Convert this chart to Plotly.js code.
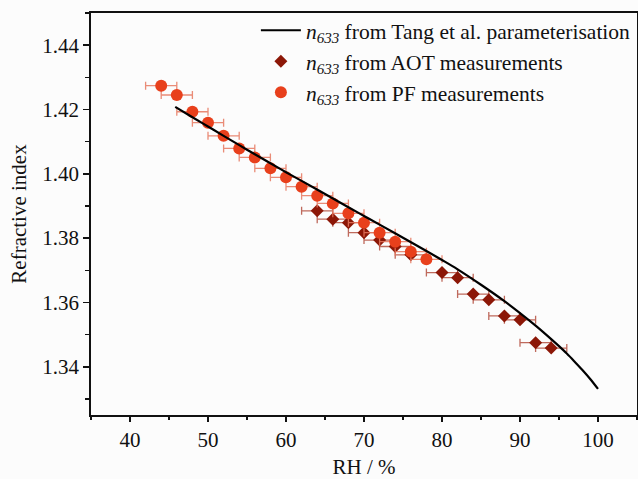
<!DOCTYPE html>
<html>
<head>
<meta charset="utf-8">
<script src="https://cdn.plot.ly/plotly-3.0.1.min.js"></script>
<style>html,body{margin:0;padding:0;background:#fcfcfc;}#chart{width:638px;height:479px;}</style>
</head>
<body>
<div id="chart"></div>
<script>
// Tang et al. parameterisation curve
const tangRH = [45.8, 48, 50, 52, 55, 58, 60, 62, 65, 68, 70, 72, 75, 78, 80, 82, 85, 88, 90, 92, 94, 95, 96, 97, 98, 99, 100];
const tangN  = [1.4208, 1.4176, 1.4147, 1.4118, 1.4075, 1.4033, 1.4005, 1.3978, 1.3937, 1.3896, 1.3869, 1.3842, 1.3801, 1.3760, 1.3732, 1.3703, 1.3655, 1.3604, 1.3567, 1.3528, 1.3486, 1.3464, 1.3441, 1.3416, 1.3390, 1.3362, 1.3331];

// AOT measurements
const aotRH  = [64, 66, 68, 70, 72, 74, 76, 80, 82, 84, 86, 88, 90, 92, 94];
const aotN   = [1.3885, 1.3859, 1.3848, 1.3817, 1.3794, 1.3774, 1.3748, 1.3693, 1.3677, 1.3626, 1.3608, 1.3558, 1.3546, 1.3475, 1.3458];
const aotErr = [2, 2, 2, 2, 2, 2, 2, 2, 2, 2, 2, 2, 2, 2, 2];

// PF measurements
const pfRH  = [44, 46, 48, 50, 52, 54, 56, 58, 60, 62, 64, 66, 68, 70, 72, 74, 76, 78];
const pfN   = [1.4274, 1.4245, 1.4193, 1.4159, 1.4118, 1.4079, 1.4051, 1.4017, 1.3989, 1.3960, 1.3932, 1.3908, 1.3877, 1.3848, 1.3817, 1.3789, 1.3758, 1.3734];
const pfErr = [2, 2, 2, 2, 2, 2, 2, 2, 2, 2, 2, 2, 2, 2, 2, 2, 2, 2];

const xTicks = [40, 50, 60, 70, 80, 90, 100];
const yTicks = [1.34, 1.36, 1.38, 1.40, 1.42, 1.44];
const yTickText = ['1.34', '1.36', '1.38', '1.40', '1.42', '1.44'];

const FONT = 'Liberation Serif, Times New Roman, serif';

const traces = [
  {
    x: aotRH, y: aotN, type: 'scatter', mode: 'markers',
    name: '<i>n</i><sub><i>633</i></sub> from AOT measurements',
    legendrank: 2,
    marker: {symbol: 'diamond', size: 10, color: '#8c1707'},
    error_x: {type: 'data', array: aotErr, visible: true, color: 'rgba(180,80,65,0.85)', thickness: 1.3, width: 4}
  },
  {
    x: pfRH, y: pfN, type: 'scatter', mode: 'markers',
    name: '<i>n</i><sub><i>633</i></sub> from PF measurements',
    legendrank: 3,
    marker: {symbol: 'circle', size: 12, color: '#e8401c'},
    error_x: {type: 'data', array: pfErr, visible: true, color: 'rgba(230,120,95,0.85)', thickness: 1.3, width: 4}
  },
  {
    x: tangRH, y: tangN, type: 'scatter', mode: 'lines',
    name: '<i>n</i><sub><i>633</i></sub> from Tang et al. parameterisation',
    legendrank: 1,
    line: {color: '#000000', width: 2.2, shape: 'spline', smoothing: 1}
  }
];

const layout = {
  width: 638, height: 479,
  margin: {l: 91, r: 1, t: 13, b: 64},
  paper_bgcolor: '#fcfcfc', plot_bgcolor: '#fcfcfc',
  font: {family: FONT, size: 21, color: '#111'},
  showlegend: true,
  legend: {
    x: 0.302, y: 1.008, xanchor: 'left', yanchor: 'top',
    bgcolor: 'rgba(0,0,0,0)', borderwidth: 0,
    font: {family: FONT, size: 21.5, color: '#111'},
    itemwidth: 40, tracegroupgap: 0
  },
  xaxis: {
    range: [35, 105], tickvals: xTicks, ticks: 'outside', ticklen: 5, tickwidth: 1.5, tickcolor: '#111',
    minor: {dtick: 5, tick0: 0, ticks: 'outside', ticklen: 3, tickwidth: 1.3, tickcolor: '#111'},
    showline: true, linewidth: 1.8, linecolor: '#111', mirror: true,
    showgrid: false, zeroline: false,
    tickfont: {family: FONT, size: 21, color: '#111'},
    title: {text: 'RH / %', font: {family: FONT, size: 21, color: '#111'}, standoff: 10}
  },
  yaxis: {
    range: [1.325, 1.45], tickvals: yTicks, ticktext: yTickText, ticks: 'outside', ticklen: 6, tickwidth: 1.5, tickcolor: '#111',
    minor: {dtick: 0.01, tick0: 1.33, ticks: 'outside', ticklen: 4, tickwidth: 1.3, tickcolor: '#111'},
    showline: true, linewidth: 1.8, linecolor: '#111', mirror: true,
    showgrid: false, zeroline: false,
    tickfont: {family: FONT, size: 21, color: '#111'},
    title: {text: 'Refractive index', font: {family: FONT, size: 21, color: '#111'}, standoff: 10}
  }
};

Plotly.newPlot('chart', traces, layout, {displayModeBar: false, staticPlot: true});
</script>
</body>
</html>
